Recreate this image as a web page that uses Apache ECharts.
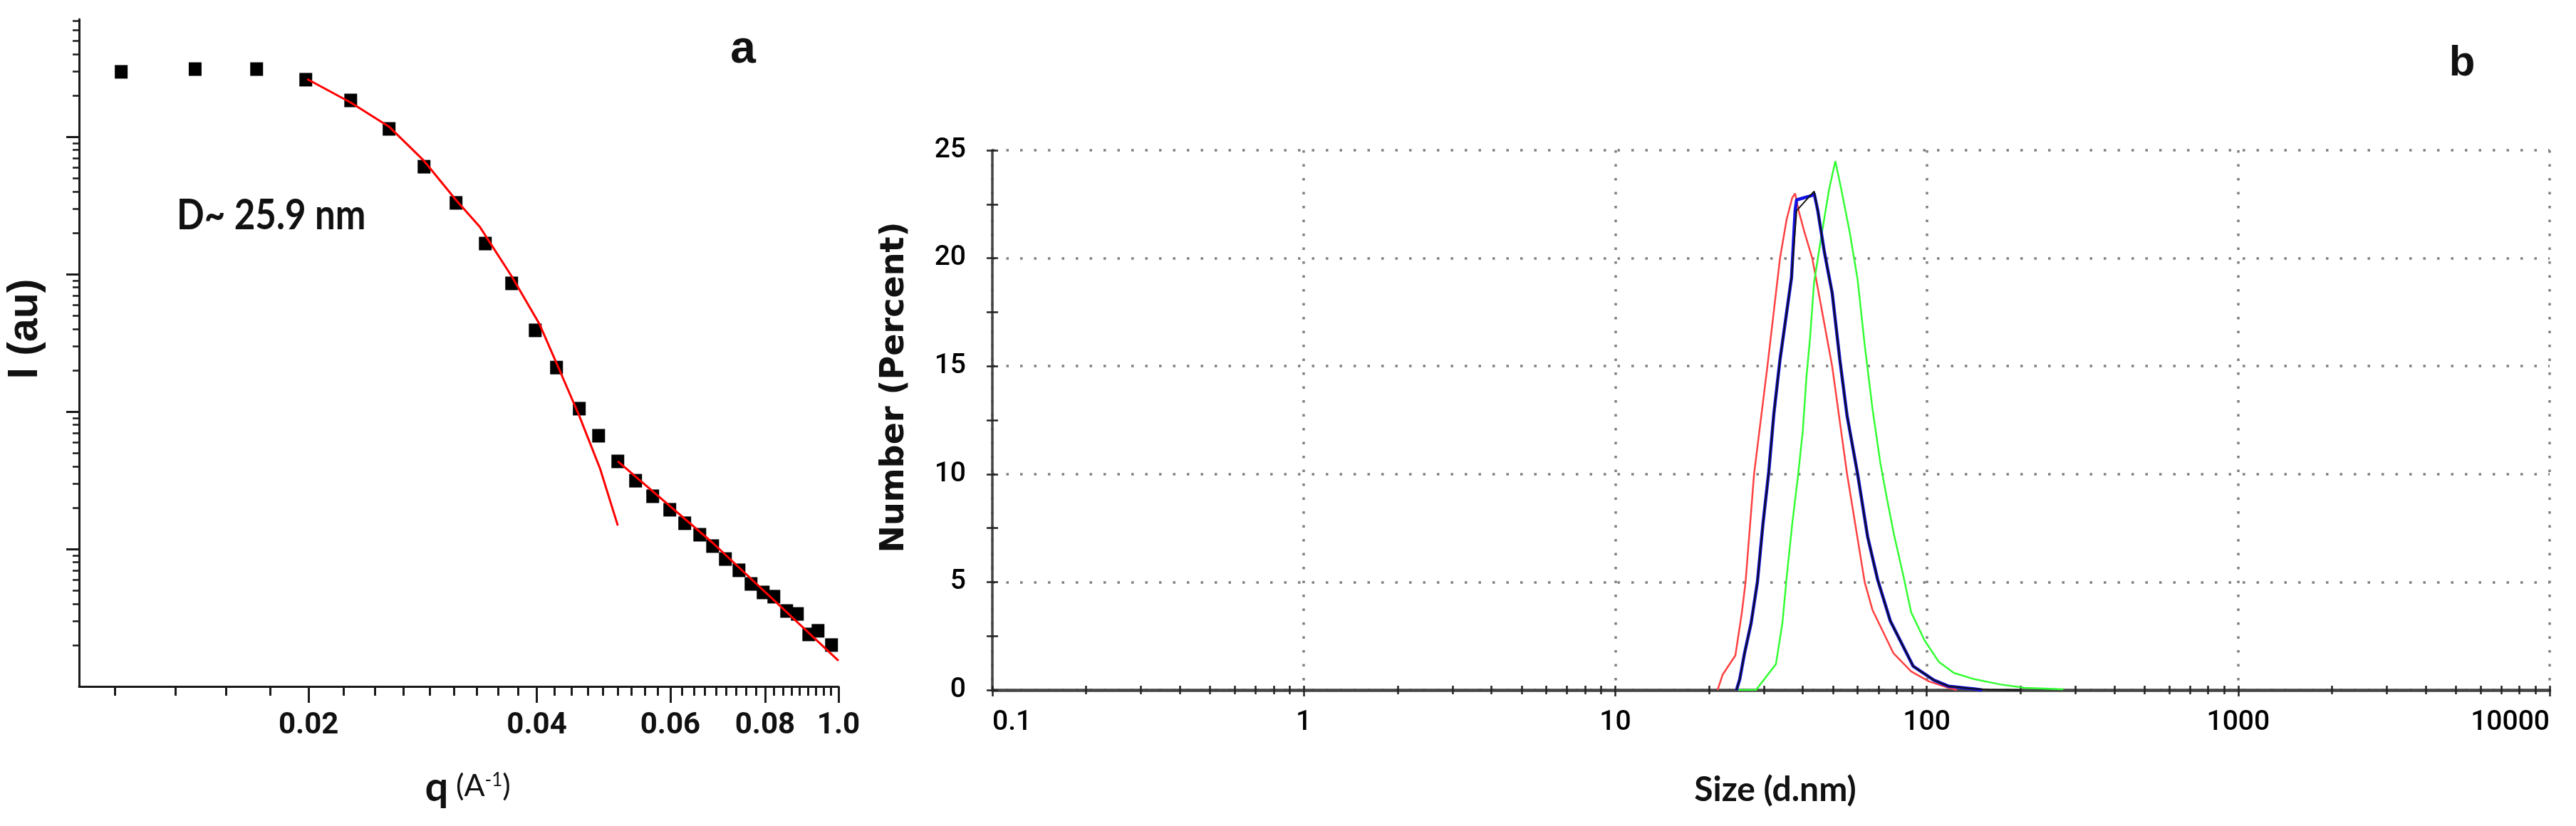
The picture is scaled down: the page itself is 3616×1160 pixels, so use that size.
<!DOCTYPE html>
<html>
<head>
<meta charset="utf-8">
<title>SAXS / DLS</title>
<script src="https://cdn.jsdelivr.net/npm/echarts@6.0.0/dist/echarts.min.js"></script>
<style>
  html, body { margin: 0; padding: 0; background: #fff; }
  #chart { width: 3616px; height: 1160px; }
</style>
</head>
<body>
<div id="chart"></div>
<script>
// ---- panel a : SAXS intensity, log-log ----
const qSaxs = [0.01132, 0.01417, 0.01708, 0.01983, 0.02273, 0.02554, 0.02840, 0.03130, 0.03421, 0.03706,
  0.03981, 0.04247, 0.04551, 0.04826, 0.05116, 0.05400, 0.05688, 0.05991, 0.06269, 0.06562,
  0.06823, 0.07093, 0.07392, 0.07668, 0.07955, 0.08218, 0.08544, 0.08826, 0.09138, 0.09398, 0.09791]
const iSaxs = [29650, 31050, 31050, 26000, 18370, 11400, 6050, 3300, 1670, 857,
  390, 209, 105, 66.7, 43.4, 31.4, 24.2, 19.3, 15.4, 12.7,
  10.5, 8.45, 7.0, 5.57, 4.83, 4.50, 3.54, 3.37, 2.39, 2.54, 2.0]
// guinier fit (red, low q)
const qGuinier = [0.01991, 0.02273, 0.02554, 0.02840, 0.03130, 0.03362, 0.03706, 0.04032, 0.04247, 0.04551, 0.04847, 0.05116]
const iGuinier = [26300, 17740, 11830, 6670, 3460, 2220, 965, 434, 225, 93, 38.5, 14.8]
// power law fit (red, high q)
const qPorod = [0.05116, 0.06823, 0.1]
const iPorod = [43.4, 11.1, 1.54]
const qTicks = [0.02, 0.04, 0.06, 0.08, 0.1]
const qTickLabels = ['0.02', '0.04', '0.06', '0.08', '1.0']
const iDecades = [10, 100, 1000, 10000]

// ---- panel b : DLS number distribution ----
const sizeTicks = [0.1, 1, 10, 100, 1000, 10000]
const sizeTickLabels = ['0.1', '1', '10', '100', '1000', '10000']
const redSize = [21.3, 22.1, 24.3, 25.5, 26.2, 27.9, 30.8, 33.8, 35.5, 37.0, 37.8, 38.8, 40.5, 42.9,
  49.7, 55.5, 63.2, 67.0, 78.2, 89.1, 101.6, 117.8, 125]
const redPct = [0, 0.7, 1.6, 3.6, 5.0, 10.0, 15.0, 20.0, 21.8, 22.8, 23.0, 22.2, 21.2, 20.0,
  15.0, 10.0, 5.0, 3.7, 1.7, 0.86, 0.40, 0.10, 0]
const greenSize = [24.8, 28.3, 32.8, 34.4, 35.6, 37.0, 38.6, 40.0, 41.1, 42.2, 43.5, 46.1, 48.6, 50.9,
  53.5, 56.6, 60.0, 63.2, 67.0, 71.0, 74.9, 78.5, 84.1, 89.1, 98.4, 109.4, 122.2, 142.2, 171.9, 206.6, 274.7]
const greenPct = [0, 0, 1.2, 3.1, 5.4, 7.7, 9.9, 12.0, 14.5, 16.3, 18.9, 21.2, 23.2, 24.5,
  23.0, 21.2, 19.0, 16.0, 13.0, 10.5, 8.7, 7.2, 5.3, 3.6, 2.3, 1.3, 0.79, 0.50, 0.26, 0.10, 0.03]
const blueSize = [24.5, 25.1, 26.0, 27.3, 28.6, 29.8, 31.1, 32.3, 33.8, 36.8, 37.8, 38.2, 42.7, 43.5,
  44.7, 46.9, 49.7, 52.6, 55.5, 60.0, 64.6, 69.6, 76.4, 90.5, 105.4, 117.8, 142.2, 150.7]
const bluePct = [0, 0.5, 1.7, 3.1, 5.0, 7.7, 10.1, 12.8, 15.3, 19.1, 22.2, 22.7, 22.9, 23.0,
  22.2, 20.3, 18.4, 15.3, 12.7, 10.0, 7.1, 5.1, 3.2, 1.1, 0.46, 0.17, 0.05, 0]
const blackSize = [24.5, 25.1, 26.0, 27.3, 28.6, 29.8, 31.1, 32.3, 33.8, 36.8, 38.2, 43.5, 44.7,
  46.9, 49.7, 52.6, 55.5, 60.0, 64.6, 69.6, 76.4, 90.5, 105.4, 117.8, 142.2, 160, 199]
const blackPct = [0, 0.5, 1.7, 3.1, 5.0, 7.7, 10.1, 12.8, 15.3, 19.1, 22.2, 23.1, 22.2,
  20.3, 18.4, 15.3, 12.7, 10.0, 7.1, 5.1, 3.2, 1.1, 0.46, 0.17, 0.05, 0.02, 0]

const log10 = Math.log10
// both panels use value axes in log10 space so the minor ticks can sit where a real log axis has them
const logLog = (xs, ys) => xs.map((x, i) => [log10(x), log10(ys[i])])
const logLin = (xs, ys) => xs.map((x, i) => [log10(x), ys[i]])

// minor q ticks: 8 per 0.02 step, 4 below 0.02
const qStep = 0.02 / 9
const qMinor = []
for (let k = 1; k <= 4; k++) qMinor.push(log10(0.02 - k * qStep))
for (let j = 0; j < 4; j++) {
  for (let k = 1; k <= 8; k++) qMinor.push(log10(qTicks[j] + k * qStep))
}
const iMax = 71600
const iMinor = []
for (let n = 0; n <= 4; n++) {
  for (let k = 2; k <= 9; k++) {
    if (k * Math.pow(10, n) < iMax) iMinor.push(log10(k * Math.pow(10, n)))
  }
}
const sizeMinor = []
for (let n = -1; n <= 3; n++) {
  for (let k = 2; k <= 9; k++) sizeMinor.push(log10(k * Math.pow(10, n)))
}
const sizeMajor = sizeTicks.map(log10)

const labelOf = (vals, labels) => v => {
  const i = vals.findIndex(t => Math.abs(log10(t) - v) < 1e-9)
  return i < 0 ? '' : labels[i]
}

const darkA = '#1a1a1a'
const darkB = '#444'
const gridDots = { color: '#808080', width: 3.5, type: [3.5, 16] }

const chart = echarts.init(document.getElementById('chart'))

chart.setOption({
  animation: false,
  backgroundColor: '#fff',
  grid: [
    { left: 111, top: 27, width: 1066, height: 937, outerBoundsMode: 'none' },
    { left: 1393, top: 211, width: 2186, height: 758, outerBoundsMode: 'none' }
  ],
  xAxis: [
    {
      gridIndex: 0, type: 'value', position: 'bottom',
      min: log10(0.00996), max: log10(0.1),
      axisLine: { show: true, onZero: false, lineStyle: { color: darkA, width: 3 } },
      axisTick: { show: true, customValues: qTicks.map(log10), length: 23, lineStyle: { color: darkA, width: 3 } },
      axisLabel: {
        show: true, customValues: qTicks.map(log10), margin: 34,
        formatter: labelOf(qTicks, qTickLabels),
        fontFamily: 'Roboto', fontWeight: 'bold', fontSize: 42, color: '#111'
      },
      splitLine: { show: false }
    },
    {
      gridIndex: 0, type: 'value', position: 'bottom', offset: 0,
      min: log10(0.00996), max: log10(0.1),
      axisLine: { show: false, onZero: false },
      axisTick: { show: true, customValues: qMinor, length: 13, lineStyle: { color: darkA, width: 3 } },
      axisLabel: { show: false },
      splitLine: { show: false }
    },
    {
      gridIndex: 1, type: 'value', position: 'bottom',
      min: log10(0.1), max: log10(10000),
      axisLine: { show: true, onZero: false, lineStyle: { color: darkB, width: 4.5 } },
      axisTick: { show: true, customValues: sizeMajor, length: 9, lineStyle: { color: '#222', width: 2.5 } },
      axisLabel: {
        show: true, customValues: sizeMajor, margin: 27,
        formatter: labelOf(sizeTicks, sizeTickLabels),
        alignMinLabel: 'left', alignMaxLabel: 'right',
        fontFamily: 'Roboto', fontWeight: 500, fontSize: 39, color: '#000'
      },
      splitLine: { show: true, lineStyle: gridDots }
    },
    {
      gridIndex: 1, type: 'value', position: 'bottom', offset: 0,
      min: log10(0.1), max: log10(10000),
      axisLine: { show: false, onZero: false },
      axisTick: { show: true, customValues: sizeMinor, length: 6, lineStyle: { color: '#222', width: 2.5 } },
      axisLabel: { show: false },
      splitLine: { show: false }
    },
    {
      gridIndex: 1, type: 'value', position: 'bottom', offset: 0,
      min: log10(0.1), max: log10(10000),
      axisLine: { show: false, onZero: false },
      axisTick: { show: true, inside: true, customValues: sizeMajor.concat(sizeMinor), length: 6, lineStyle: { color: '#222', width: 2.5 } },
      axisLabel: { show: false },
      splitLine: { show: false }
    }
  ],
  yAxis: [
    {
      gridIndex: 0, type: 'value', position: 'left',
      min: 0, max: log10(iMax),
      axisLine: { show: true, onZero: false, lineStyle: { color: darkA, width: 3 } },
      axisTick: { show: true, customValues: iDecades.map(log10), length: 18, lineStyle: { color: darkA, width: 3 } },
      axisLabel: { show: false },
      splitLine: { show: false }
    },
    {
      gridIndex: 0, type: 'value', position: 'left', offset: 0,
      min: 0, max: log10(iMax),
      axisLine: { show: false, onZero: false },
      axisTick: { show: true, customValues: iMinor, length: 9, lineStyle: { color: darkA, width: 2.5 } },
      axisLabel: { show: false },
      splitLine: { show: false }
    },
    {
      gridIndex: 1, type: 'value', position: 'left',
      min: 0, max: 25, interval: 5,
      axisLine: { show: true, onZero: false, lineStyle: { color: darkB, width: 3.5 } },
      axisTick: { show: true, length: 8, lineStyle: { color: '#222', width: 2.5 } },
      minorTick: { show: true, splitNumber: 2, length: 8, lineStyle: { color: '#222', width: 2.5 } },
      axisLabel: { show: true, margin: 37, fontFamily: 'Roboto', fontWeight: 500, fontSize: 39, color: '#000' },
      splitLine: { show: true, lineStyle: gridDots }
    },
    {
      gridIndex: 1, type: 'value', position: 'left', offset: 0,
      min: 0, max: 25, interval: 2.5,
      axisLine: { show: false, onZero: false },
      axisTick: { show: true, inside: true, length: 8, lineStyle: { color: '#222', width: 2.5 } },
      axisLabel: { show: false },
      splitLine: { show: false }
    }
  ],
  series: [
    {
      name: 'SAXS', type: 'scatter', xAxisIndex: 0, yAxisIndex: 0,
      symbol: 'rect', symbolSize: [18, 19],
      itemStyle: { color: '#000', opacity: 1 },
      data: logLog(qSaxs, iSaxs), z: 3
    },
    {
      name: 'Guinier fit', type: 'line', xAxisIndex: 0, yAxisIndex: 0,
      showSymbol: false, symbol: 'none',
      lineStyle: { color: '#ff0000', width: 3 },
      data: logLog(qGuinier, iGuinier), z: 4
    },
    {
      name: 'Power law fit', type: 'line', xAxisIndex: 0, yAxisIndex: 0,
      showSymbol: false, symbol: 'none',
      lineStyle: { color: '#ff0000', width: 3 },
      data: logLog(qPorod, iPorod), z: 4
    },
    {
      name: 'red', type: 'line', xAxisIndex: 2, yAxisIndex: 2,
      showSymbol: false, symbol: 'none',
      lineStyle: { color: '#ff4040', width: 2.5 },
      data: logLin(redSize, redPct)
    },
    {
      name: 'green', type: 'line', xAxisIndex: 2, yAxisIndex: 2,
      showSymbol: false, symbol: 'none',
      lineStyle: { color: '#33ff33', width: 2.5 },
      data: logLin(greenSize, greenPct)
    },
    {
      name: 'blue', type: 'line', xAxisIndex: 2, yAxisIndex: 2,
      showSymbol: false, symbol: 'none',
      lineStyle: { color: '#1010e0', width: 4.5 },
      data: logLin(blueSize, bluePct)
    },
    {
      name: 'black', type: 'line', xAxisIndex: 2, yAxisIndex: 2,
      showSymbol: false, symbol: 'none',
      lineStyle: { color: '#111', width: 2 },
      data: logLin(blackSize, blackPct)
    }
  ],
  graphic: [
    // panel a texts
    { type: 'text', x: 1043, y: 70, style: { text: 'a', font: "bold 64px 'Liberation Sans', sans-serif", fill: '#111', textAlign: 'center', textVerticalAlign: 'middle' } },
    { type: 'text', x: 248, y: 303, scaleX: 0.85, style: { text: 'D~ 25.9 nm', font: "bold 60px Lato, sans-serif", fill: '#111', textAlign: 'left', textVerticalAlign: 'middle' } },
    { type: 'text', x: 36, y: 462, rotation: Math.PI / 2, style: { text: 'I (au)', font: "bold 59px 'Liberation Sans', sans-serif", fill: '#111', textAlign: 'center', textVerticalAlign: 'middle' } },
    { type: 'text', x: 613, y: 1106, style: { text: 'q', font: "bold 58px Lato, sans-serif", fill: '#111', textAlign: 'center', textVerticalAlign: 'middle' } },
    {
      type: 'text', x: 640, y: 1104,
      style: {
        text: '{u|(A}{s|-1}{u|)}', textAlign: 'left', textVerticalAlign: 'middle',
        rich: {
          u: { fontFamily: 'Lato', fontSize: 43, fill: '#111', verticalAlign: 'middle' },
          s: { fontFamily: 'Lato', fontSize: 26, fill: '#111', verticalAlign: 'top' }
        }
      }
    },
    // panel b texts
    { type: 'text', x: 3456, y: 89, style: { text: 'b', font: "bold 60px 'Liberation Sans', sans-serif", fill: '#111', textAlign: 'center', textVerticalAlign: 'middle' } },
    { type: 'text', x: 1256, y: 544, rotation: Math.PI / 2, style: { text: 'Number (Percent)', font: "bold 46px 'DejaVu Sans', sans-serif", fill: '#111', textAlign: 'center', textVerticalAlign: 'middle' } },
    { type: 'text', x: 2492, y: 1110, style: { text: 'Size (d.nm)', font: "bold 48px Lato, sans-serif", fill: '#111', textAlign: 'center', textVerticalAlign: 'middle' } }
  ]
})
</script>
</body>
</html>
